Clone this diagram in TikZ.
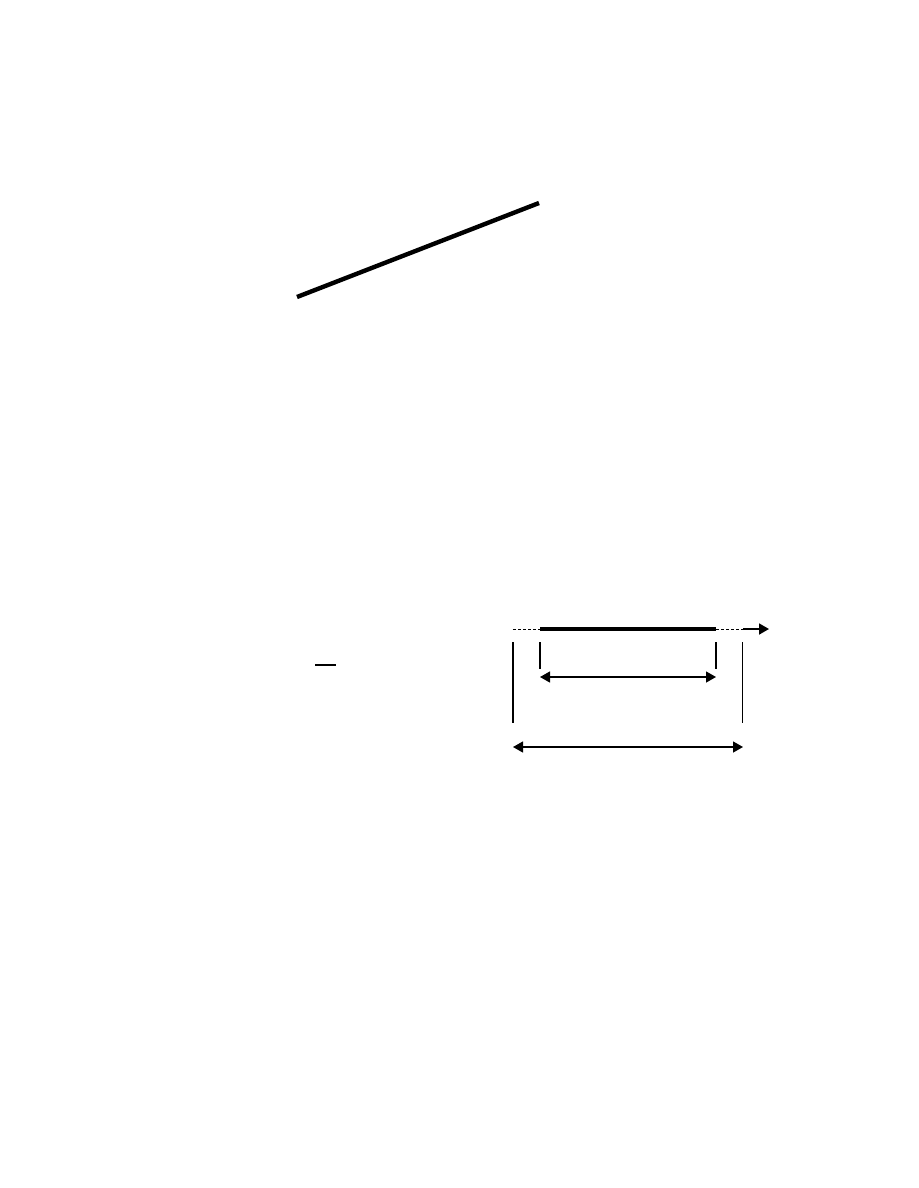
\documentclass[tikz,border=0pt]{standalone}
\usetikzlibrary{arrows.meta}
\begin{document}
\begin{tikzpicture}[x=1pt,y=-1pt,
  thinline/.style={line width=1.3pt},
  vbar/.style={line width=1.6pt},
  thickseg/.style={line width=4.6pt},
  dashseg/.style={line width=1pt,dash pattern=on 3pt off 2pt},
  dimarrow/.style={line width=1.3pt,{Triangle[length=10pt,width=11pt]}-{Triangle[length=10pt,width=11pt]}},
  axisarrow/.style={line width=1.8pt,-{Triangle[length=10pt,width=11pt]}}]
\useasboundingbox (0,0) rectangle (918,1188);
% top slanted thick line
\coordinate (s1) at (297,297);
\coordinate (s2) at (539,203);
\draw[line width=4.4pt] (s1) -- (s2);
% small bar
\coordinate (b1) at (315,665);
\coordinate (b2) at (336,665);
\draw[line width=1.5pt] (b1) -- (b2);
% axis
\coordinate (a0) at (513,629);
\coordinate (a1) at (540,629);
\coordinate (a2) at (716,629);
\coordinate (a3) at (743,629);
\coordinate (a4) at (769,629);
\draw[dashseg] (a0) -- (a1);
\draw[thickseg] (a1) -- (a2);
\draw[dashseg] (a2) -- (a3);
\draw[axisarrow] (a3) -- (a4);
% vertical lines
\coordinate (v1t) at (513,642);
\coordinate (v1b) at (513,723);
\coordinate (v2t) at (540,642);
\coordinate (v2b) at (540,669);
\coordinate (v3t) at (716,642);
\coordinate (v3b) at (716,669);
\coordinate (v4t) at (742.5,642);
\coordinate (v4b) at (742.5,723);
\draw[vbar] (v1t) -- (v1b);
\draw[vbar] (v2t) -- (v2b);
\draw[vbar] (v3t) -- (v3b);
\draw[vbar] (v4t) -- (v4b);
% dimension arrows
\coordinate (d1l) at (540,677);
\coordinate (d1r) at (716,677);
\coordinate (d2l) at (513,747);
\coordinate (d2r) at (743,747);
\draw[dimarrow] (d1l) -- (d1r);
\draw[dimarrow] (d2l) -- (d2r);
\end{tikzpicture}
\end{document}
